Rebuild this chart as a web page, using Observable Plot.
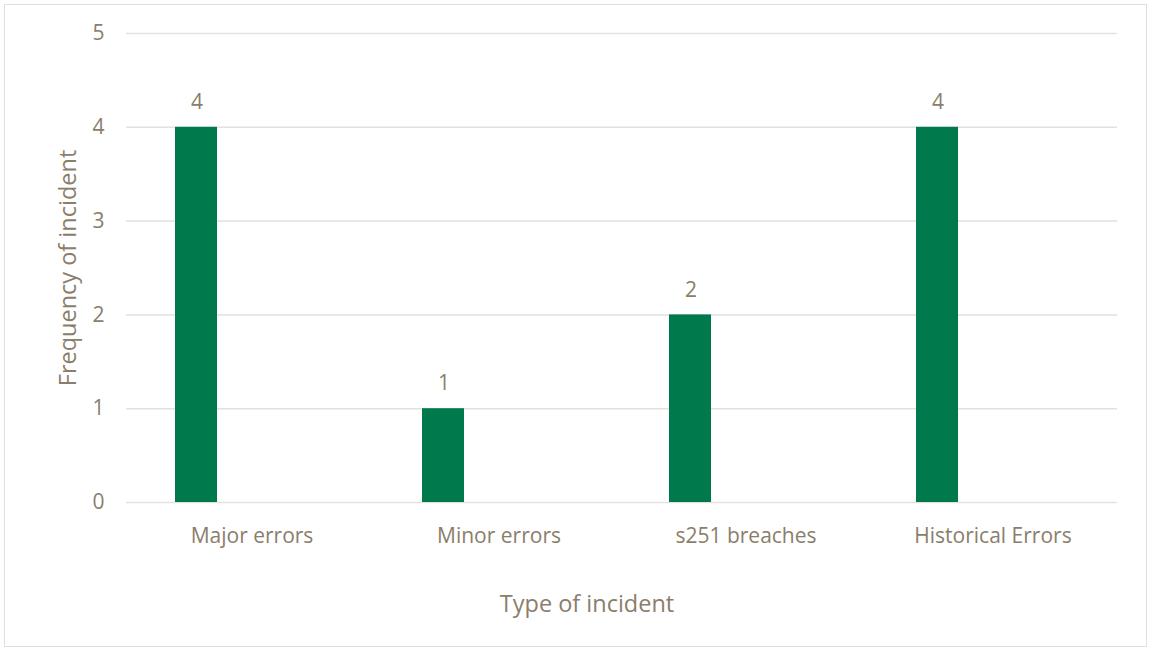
<!DOCTYPE html>
<html>
<head>
<meta charset="utf-8">
<script src="https://cdn.jsdelivr.net/npm/d3@7"></script>
<script src="https://cdn.jsdelivr.net/npm/@observablehq/plot@0.6"></script>
<style>
  html, body { margin: 0; padding: 0; background: #fff; }
  #wrap { position: relative; width: 1152px; height: 652px; }
  #border { position: absolute; left: 4px; top: 4px; width: 1143px; height: 643px; border: 1.5px solid #e2dfd8; box-sizing: border-box; pointer-events: none; }
</style>
</head>
<body>
<div id="wrap"><div id="border"></div></div>
<script>
const categories = ["Major errors", "Minor errors", "s251 breaches", "Historical Errors"];
const frequencies = [4, 1, 2, 4];
const yTicks = [0, 1, 2, 3, 4, 5];
const xTitle = "Type of incident";
const yTitle = "Frequency of incident";

const data = categories.map((c, i) => ({category: c, value: frequencies[i]}));
const textColor = "#8a7e6b";

const chart = Plot.plot({
  width: 1152,
  height: 652,
  marginLeft: 126,
  marginRight: 35,
  marginTop: 33,
  marginBottom: 150,
  style: {fontFamily: "'Open Sans', sans-serif", fontSize: "21px", color: textColor, background: "transparent", overflow: "visible"},
  x: {domain: categories, padding: 0},
  y: {domain: [0, 5]},
  marks: [
    Plot.ruleY(yTicks, {stroke: "#e4e1da", strokeWidth: 1.5}),
    Plot.barY(data, {x: "category", y: "value", fill: "#007a4d", insetLeft: 47, insetRight: 158}),
    Plot.text(data, {x: "category", y: "value", text: d => String(d.value), dx: -55, dy: -25, fill: textColor, fontSize: 21}),
    Plot.axisX({tickSize: 0, tickPadding: 26, fontSize: 21, label: null}),
    Plot.text([xTitle], {frameAnchor: "bottom", text: d => d, dx: -35, dy: 109, fill: textColor, fontSize: 23.5}),
    Plot.axisY({ticks: yTicks, tickFormat: d => String(d), tickSize: 0, tickPadding: 22, fontSize: 21, label: yTitle, labelAnchor: "center", labelOffset: 67, labelArrow: "none"})
  ]
});
chart.style.position = "absolute";
chart.style.left = "0";
chart.style.top = "0";
chart.querySelectorAll("text").forEach(t => {
  const s = t.textContent;
  t.style.fontSize = (s === xTitle || s === yTitle) ? "23.5px" : "21px";
});
document.getElementById("wrap").appendChild(chart);
</script>
</body>
</html>
